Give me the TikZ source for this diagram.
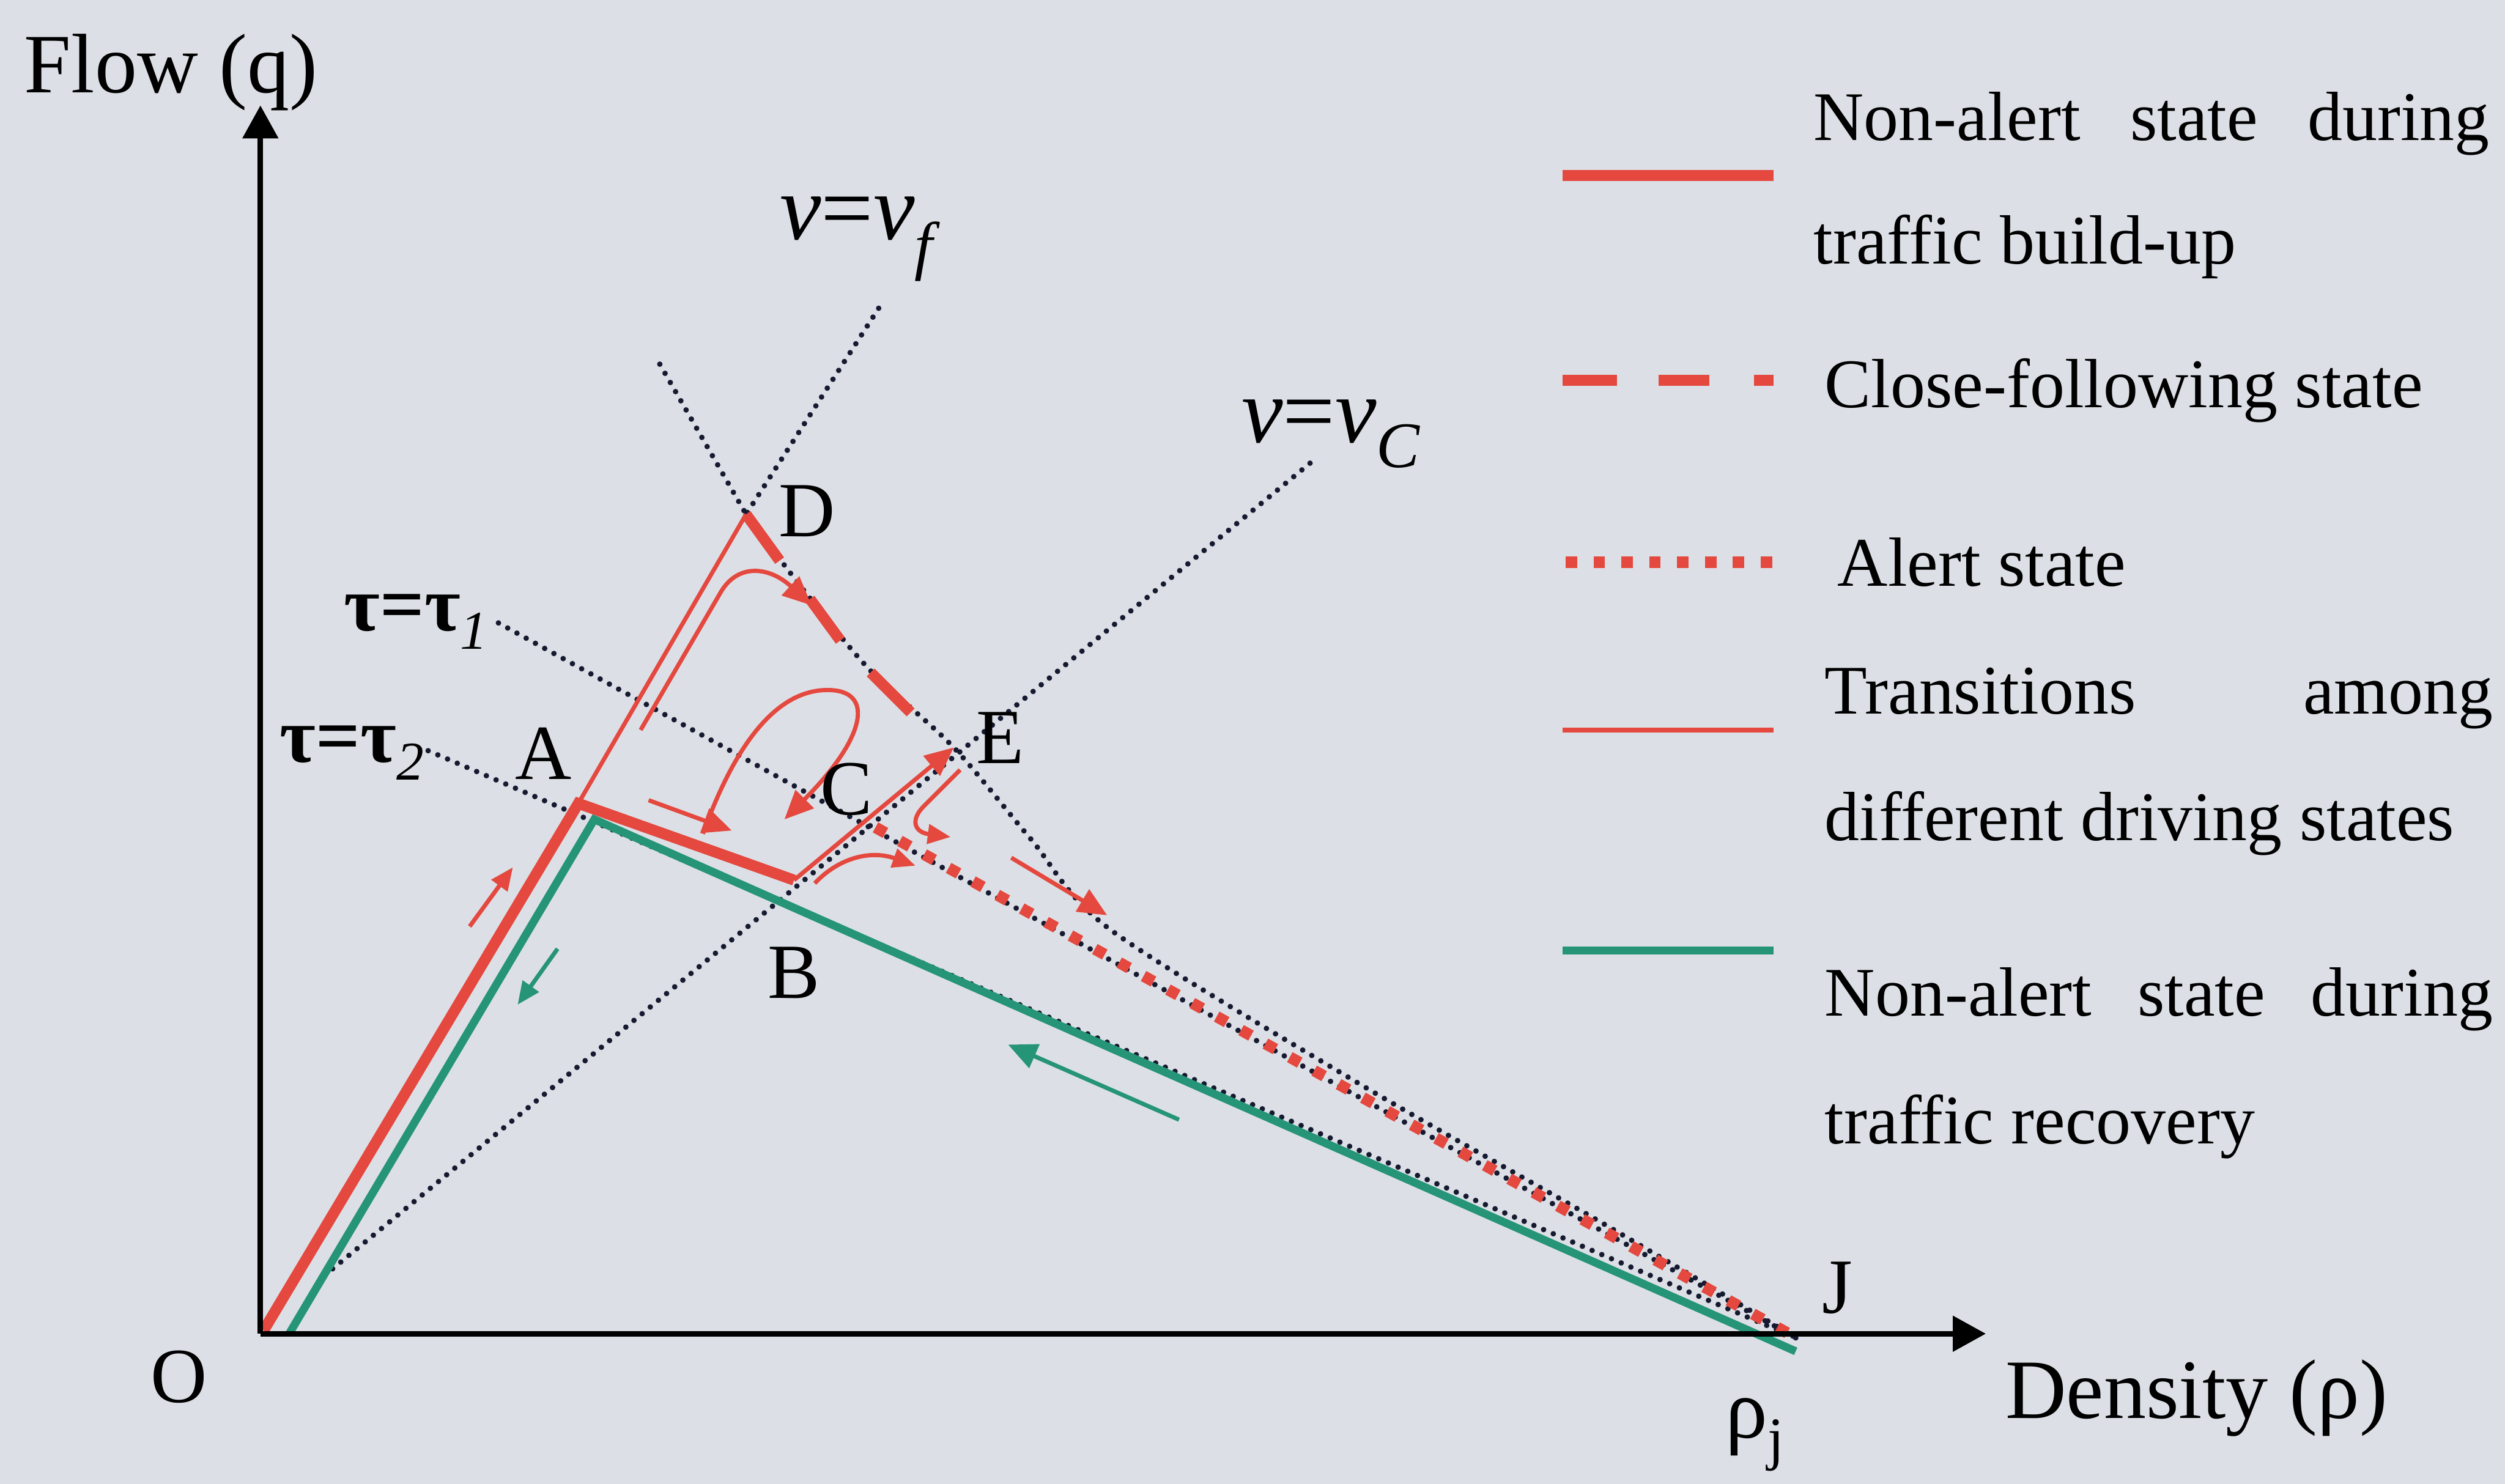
\documentclass[tikz,border=0pt]{standalone}
\usepackage{fontspec}
\setmainfont{Liberation Serif}
\usetikzlibrary{arrows.meta,calc}
\definecolor{bg}{RGB}{220,224,230}
\definecolor{rd}{RGB}{228,72,62}
\definecolor{gr}{RGB}{38,148,118}
\definecolor{dk}{RGB}{22,26,48}
\begin{document}
\begin{tikzpicture}[x=0.0266cm,y=-0.0266cm,
  dotline/.style={dk, line width=2.6pt, line cap=round, dash pattern=on 0pt off 5pt},
  redthick/.style={rd, line width=5.2pt, line join=miter},
  greenline/.style={gr, line width=3.8pt, line join=miter},
  trans/.style={rd, line width=2pt},
  thead/.style={-{Triangle[length=0.48cm,width=0.42cm]}},
  shead/.style={-{Triangle[length=0.38cm,width=0.32cm]}},
  closef/.style={rd, line width=5.2pt},
  alertst/.style={rd, line width=5.4pt, dash pattern=on 5.4pt off 7.8pt},
  axis/.style={black, line width=2.6pt, -{Triangle[length=0.55cm,width=0.58cm]}},
  lbl/.style={inner sep=0pt, anchor=base, font=\fontsize{37}{44}\selectfont},
  leg/.style={inner sep=0pt, anchor=base west, font=\fontsize{33}{40}\selectfont},
  axl/.style={inner sep=0pt, anchor=base west, font=\fontsize{40}{48}\selectfont},
  vl/.style={inner sep=0pt, anchor=base west, font=\fontsize{44}{52}\selectfont},
  tl/.style={inner sep=0pt, anchor=base west, font=\fontsize{37}{44}\selectfont\bfseries},
]
\fill[bg] (0,0) rectangle (1568,929);
\useasboundingbox (0,0) rectangle (1568,929);

% key points
\coordinate (O) at (165,833);
\coordinate (A) at (362,503);
\coordinate (B) at (497,551);
\coordinate (Og) at (181,835);
\coordinate (Ag) at (372,513);
\coordinate (J) at (1125,838);
\coordinate (Jg) at (1124,846);
\coordinate (D) at (467,322);
\coordinate (E) at (597,468);
\coordinate (C) at (548,518);
\coordinate (T1) at (312,390);
\coordinate (T2) at (268,470);
\coordinate (VF) at (550,193);
\coordinate (VC) at (820,290);
\coordinate (VCe) at (205,797);
\coordinate (U0) at (413,228);

% dotted reference lines
\draw[dotline] (T2) -- (J);
\draw[dotline] (T1) -- (J);
\draw[dotline] (VC) -- (VCe);
\draw[dotline] (VF) -- (D);
\draw[dotline] (U0) -- (D);
\draw[dotline] plot[smooth, tension=0.5] coordinates {(467,322) (505,372) (545,420) (597,468) (645,525) (695,582) (850,678) (1000,764) (1125,838)};

% green recovery branch
\draw[greenline] (Og) -- (Ag) -- (Jg);

% red non-alert build-up
\draw[redthick] (O) -- (A) -- (B);

% thin red A-D
\draw[trans] (A) -- (D);

% close-following dashes along D-E
\draw[closef] (D) -- (488,351);
\draw[closef] (507,375) -- (526,401);
\draw[closef] (545,421) -- (570,446);

% alert state
\draw[alertst] (C) -- (J);

% transitions
\draw[trans, thead] (401,457) -- (451,371) .. controls (462,352) and (482,355) .. (508,379);
\draw[trans, thead] (440,522) .. controls (455,480) and (480,432) .. (518,432) .. controls (548,432) and (542,462) .. (491,513);
\draw[trans, thead] (406,501) -- (458,520);
\draw[trans, thead] (B) -- (E);
\draw[trans, shead] (601,482) -- (578,505) .. controls (570,513) and (572,521) .. (595,524);
\draw[trans, shead] (510,553) .. controls (525,537) and (545,532) .. (573,542);
\draw[trans, thead] (633,537) -- (693,573);
\draw[rd, line width=2pt, shead] (294,580) -- (321,543);
\draw[gr, line width=2pt, shead] (349,594) -- (324,629);
\draw[gr, line width=2pt, thead] (738,701) -- (631,654);

% axes
\coordinate (Ax0) at (163,835);
\coordinate (Ytip) at (163,66);
\coordinate (Xtip) at (1243,835);
\draw[axis] (Ax0) -- (Ytip);
\draw[axis] (Ax0) -- (Xtip);

% axis labels
\node[axl] (flow) at (15,58) {Flow (q)};
\node[axl] (dens) at (1255,888) {Density (ρ)};
\node[axl] (rhoj) at (1080,900) {ρ\textsubscript{j}};

% point labels
\node[lbl] (lO) at (112,878) {O};
\node[lbl] (lJ) at (1150,822) {J};
\node[lbl] (lA) at (340,488) {A};
\node[lbl] (lB) at (497,625) {B};
\node[lbl] (lC) at (530,510) {C};
\node[lbl] (lD) at (505,336) {D};
\node[lbl] (lE) at (626,478) {E};

\node[tl] (tau1) at (215,395) {τ=τ\textsubscript{\textit{\mdseries 1}}};
\node[tl] (tau2) at (175,477) {τ=τ\textsubscript{\textit{\mdseries 2}}};
\node[vl] (vf) at (488,150) {\textit{v}=\textit{v}\textsubscript{\textit{f}}};
\node[vl] (vc) at (777,277) {\textit{v}=\textit{v}\textsubscript{\textit{C}}};

% legend
\draw[rd, line width=5.2pt] (978,110) -- (1110,110);
\draw[closef] (978,238) -- (1012,238);
\draw[closef] (1038,238) -- (1070,238);
\draw[closef] (1098,238) -- (1110,238);
\draw[alertst] (980,352) -- (1111,352);
\draw[rd, line width=2.2pt] (978,457) -- (1110,457);
\draw[gr, line width=3.8pt] (978,595) -- (1110,595);

\node[leg] (l1a) at (1135,88) {\makebox[11.25cm][s]{Non-alert state during}};
\node[leg] (l1b) at (1135,165) {traffic build-up};
\node[leg] (l2) at (1142,255) {Close-following state};
\node[leg] (l3) at (1150,367) {Alert state};
\node[leg] (l4a) at (1142,447) {\makebox[11.12cm][s]{Transitions among}};
\node[leg] (l4b) at (1142,526) {different driving states};
\node[leg] (l5a) at (1142,636) {\makebox[11.12cm][s]{Non-alert state during}};
\node[leg] (l5b) at (1142,716) {traffic recovery};
\end{tikzpicture}
\end{document}
